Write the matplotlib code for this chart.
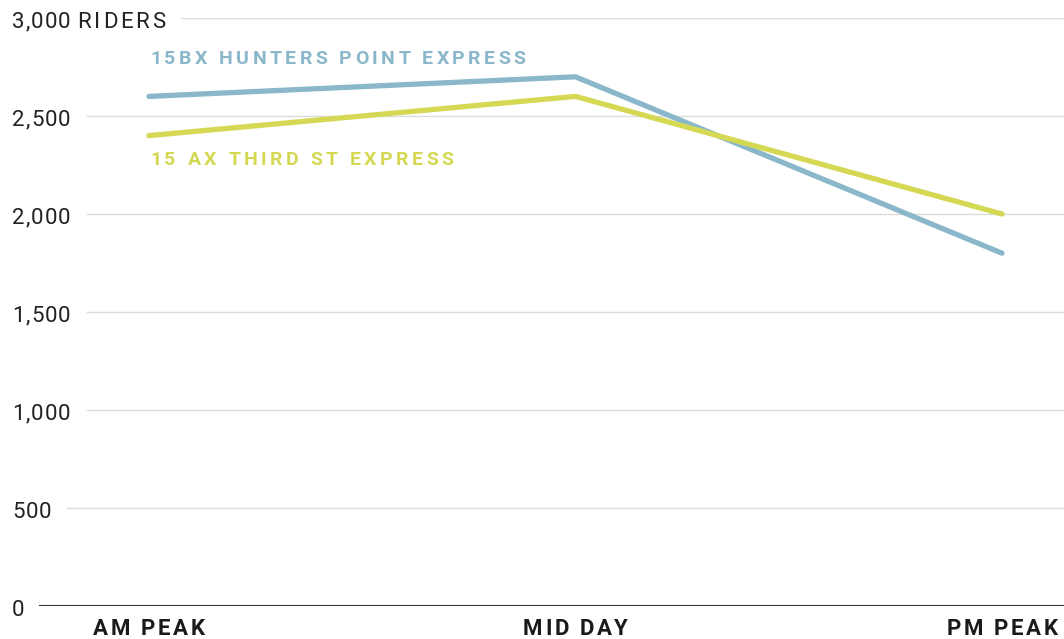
import numpy as np
import matplotlib
matplotlib.use("Agg")
import matplotlib.pyplot as plt
from matplotlib import font_manager as fm
from matplotlib import transforms as mtrans
from matplotlib import ft2font

# data
periods = ["AM PEAK", "MID DAY", "PM PEAK"]
bx_riders = [2600, 2700, 1800]   # 15BX Hunters Point Express
ax_riders = [2400, 2600, 2000]   # 15 AX Third St Express
yticks = [0, 500, 1000, 1500, 2000, 2500, 3000]
ytick_labels = ["0", "500", "1,000", "1,500", "2,000", "2,500", "3,000"]
unit_label = "RIDERS"
bx_name = "15BX HUNTERS POINT EXPRESS"
ax_name = "15 AX THIRD ST EXPRESS"

BLUE = "#8ab7c9"
YELLOW = "#d4d853"
FONT = "Roboto"

W, H = 1064, 639
DPI = 100
fig = plt.figure(figsize=(W / DPI, H / DPI), dpi=DPI)
fig.patch.set_facecolor("white")
ax = fig.add_axes([0, 1 - 606 / H, 1, (606 - 18) / H])
ax.axis("off")

x = np.arange(len(periods))
ax.set_xlim(-149 / 426.5, 2 + 62 / 426.5)
ax.set_ylim(0, 3000)

NOHINT = getattr(getattr(ft2font, "LoadFlags", None), "NO_HINTING", None)
if NOHINT is None:
    NOHINT = ft2font.LOAD_NO_HINTING


def advances(s, size, weight):
    path = fm.findfont(fm.FontProperties(family=FONT, weight=weight))
    f = ft2font.FT2Font(path, hinting_factor=1)
    f.set_size(size, DPI)
    return [f.load_char(ord(ch), flags=NOHINT).linearHoriAdvance / 65536 for ch in s]


def spaced(s, x0, y0, transform, size, weight="normal", spacing=0.0,
           ha="left", color="#222222", dx=0, dy=0):
    """draw text with extra letter spacing, returns right edge offset in px"""
    adv = advances(s, size, weight)
    total = sum(adv) + spacing * (len(s) - 1)
    start = {"left": 0, "center": -total / 2, "right": -total}[ha]
    pen = start
    for ch, a in zip(s, adv):
        if ch != " ":
            tr = mtrans.offset_copy(transform, fig=fig, x=dx + pen + a / 2, y=dy, units="dots")
            ax.text(x0, y0, ch, transform=tr, ha="center", va="baseline",
                    fontsize=size, fontweight=weight, family=FONT, color=color,
                    clip_on=False)
        pen += a + spacing
    return dx + start + total


# y labels + gridlines
ylab_tr = ax.get_yaxis_transform()  # x in axes, y in data
for v, lab in zip(yticks, ytick_labels):
    right = spaced(lab, 0.0, v, ylab_tr, 16, spacing=1.2, dx=12, dy=-9.5)
    if v == yticks[-1]:
        right = spaced(unit_label, 0.0, v, ylab_tr, 16, spacing=2.9, dx=right + 7, dy=-9.5)
    xmin = (right + 16) / W
    if v == 0:
        ax.axhline(v, xmin=xmin, xmax=1, color="#333333", lw=1.5, zorder=2)
    else:
        ax.axhline(v, xmin=xmin, xmax=1, color="#dcdcdc", lw=1, zorder=1)

# lines
ax.plot(x, bx_riders, color=BLUE, lw=3.8, solid_capstyle="round", zorder=3)
ax.plot(x, ax_riders, color=YELLOW, lw=3.8, solid_capstyle="round", zorder=4)

# series labels
spaced(bx_name, x[0], bx_riders[0], ax.transData, 14, weight="bold",
       spacing=3.7, color=BLUE, dx=1, dy=32.5)
spaced(ax_name, x[0], ax_riders[0], ax.transData, 14, weight="bold",
       spacing=3.7, color=YELLOW, dx=1, dy=-29.5)

# x labels
xlab_tr = ax.get_xaxis_transform()
for xi, lab in zip(x, periods):
    spaced(lab, xi, 0, xlab_tr, 16, weight="bold", spacing=2.8, ha="center",
           color="#1a1a1a", dy=-29)

fig.savefig("out.png", dpi=DPI, facecolor="white")
